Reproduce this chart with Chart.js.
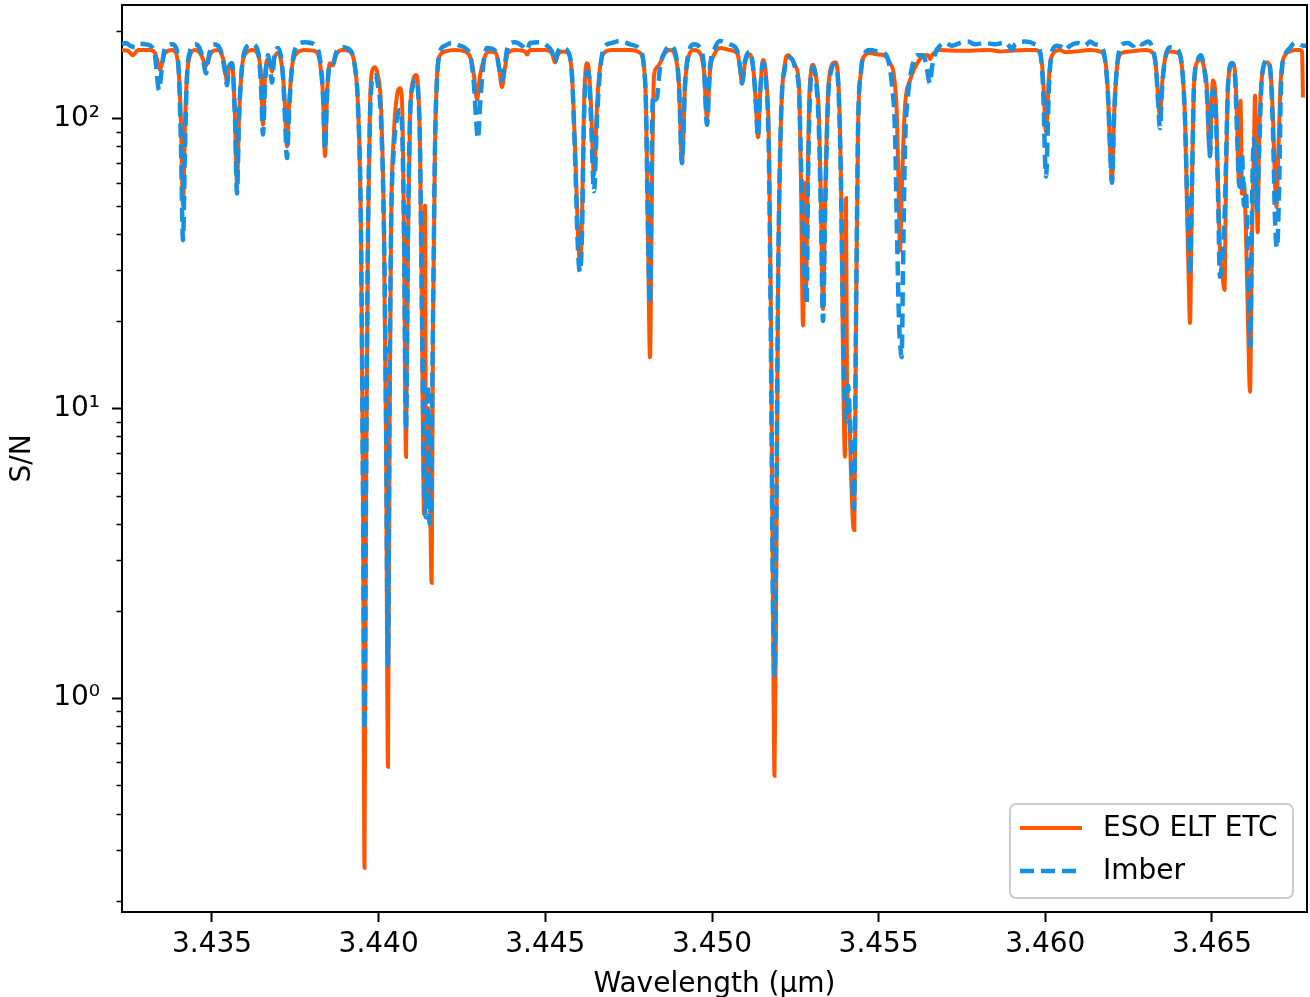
<!DOCTYPE html>
<html>
<head>
<meta charset="utf-8">
<script src="https://cdn.jsdelivr.net/npm/chart.js@4"></script>
<style>
  body { margin: 0; background: #fff; }
</style>
</head>
<body>
<canvas id="chart" width="1310" height="997"></canvas>
<script>
// [wavelength (um), S/N]
const etcSpectrum = [
  [3.43230, 172], [3.43248, 171], [3.43263, 165], [3.43278, 172], [3.43314, 172],
  [3.43329, 168], [3.43338, 155], [3.43344, 147], [3.43350, 155], [3.43359, 168],
  [3.43380, 172], [3.43392, 168], [3.43401, 140], [3.43407, 95], [3.43413, 50],
  [3.43419, 95], [3.43425, 140], [3.43434, 165], [3.43449, 172], [3.43464, 168],
  [3.43473, 160], [3.43482, 152], [3.43491, 162], [3.43500, 170], [3.43518, 172],
  [3.43530, 165], [3.43539, 150], [3.43545, 133], [3.43551, 150], [3.43560, 155],
  [3.43569, 100], [3.43575, 60], [3.43581, 100], [3.43590, 150], [3.43602, 168],
  [3.43620, 172], [3.43638, 166], [3.43647, 140], [3.43653, 95], [3.43659, 140],
  [3.43668, 160], [3.43674, 155], [3.43680, 145], [3.43686, 160], [3.43698, 168],
  [3.43713, 140], [3.43719, 110], [3.43725, 80], [3.43731, 110], [3.43740, 150],
  [3.43755, 168], [3.43779, 172], [3.43812, 170], [3.43824, 155], [3.43833, 120],
  [3.43839, 74], [3.43845, 120], [3.43854, 155], [3.43863, 152], [3.43872, 165],
  [3.43890, 172], [3.43914, 170], [3.43929, 150], [3.43938, 110], [3.43947, 40],
  [3.43953, 5], [3.439575, 0.26], [3.43962, 5], [3.43968, 40], [3.43974, 110],
  [3.43980, 145], [3.43989, 150], [3.43998, 140], [3.44007, 110], [3.44016, 40],
  [3.44022, 8], [3.44028, 0.58], [3.440325, 8], [3.44037, 40], [3.44046, 90],
  [3.44055, 120], [3.44064, 127], [3.44070, 115], [3.44076, 40], [3.44082, 6.8],
  [3.44088, 40], [3.44094, 100], [3.44103, 135], [3.44112, 141], [3.44118, 130],
  [3.44124, 80], [3.44130, 20], [3.44136, 4.3], [3.44139, 50], [3.44142, 5],
  [3.44148, 10], [3.44154, 5], [3.44159, 2.5], [3.44163, 20], [3.44169, 80],
  [3.44175, 140], [3.44184, 165], [3.44199, 170], [3.44229, 172], [3.44259, 170],
  [3.44277, 160], [3.44286, 140], [3.44295, 116], [3.44304, 140], [3.44316, 160],
  [3.44328, 170], [3.44352, 168], [3.44361, 150], [3.44370, 128], [3.44379, 150],
  [3.44388, 168], [3.44409, 172], [3.44439, 170], [3.44445, 166], [3.44454, 172],
  [3.44499, 172], [3.44520, 168], [3.44529, 156], [3.44538, 166], [3.44550, 170],
  [3.44568, 168], [3.44580, 140], [3.44589, 80], [3.44598, 40], [3.44604, 32],
  [3.44610, 45], [3.44616, 110], [3.44625, 155], [3.44631, 145], [3.44637, 110],
  [3.44646, 64], [3.44655, 110], [3.44664, 150], [3.44676, 168], [3.44700, 172],
  [3.44754, 172], [3.44784, 168], [3.44796, 150], [3.44802, 110], [3.44808, 40],
  [3.44814, 15], [3.44820, 60], [3.44826, 140], [3.44835, 150], [3.44844, 155],
  [3.44859, 168], [3.44874, 172], [3.44889, 165], [3.44901, 130], [3.44910, 70],
  [3.44919, 130], [3.44931, 165], [3.44946, 172], [3.44964, 168], [3.44976, 145],
  [3.44985, 100], [3.44994, 145], [3.45009, 168], [3.45024, 175], [3.45054, 172],
  [3.45075, 168], [3.45084, 150], [3.45090, 132], [3.45099, 155], [3.45114, 166],
  [3.45126, 140], [3.45132, 110], [3.45138, 86], [3.45144, 120], [3.45153, 159],
  [3.45162, 140], [3.45171, 80], [3.45177, 20], [3.45183, 2], [3.451875, 0.54],
  [3.45192, 2], [3.45198, 25], [3.45207, 100], [3.45219, 155], [3.45228, 165],
  [3.45240, 160], [3.45252, 150], [3.45261, 130], [3.45267, 60], [3.45273, 19.3],
  [3.45279, 60], [3.45282, 25], [3.45285, 40], [3.45291, 110], [3.45297, 145],
  [3.45303, 153], [3.45312, 140], [3.45321, 100], [3.45327, 50], [3.45333, 22],
  [3.45339, 50], [3.45348, 120], [3.45357, 150], [3.45369, 156], [3.45378, 140],
  [3.45387, 60], [3.45393, 15], [3.45399, 6.8], [3.45402, 53], [3.45405, 12],
  [3.45411, 10], [3.45417, 6], [3.45423, 4], [3.45427, 3.8], [3.45432, 20],
  [3.45438, 90], [3.45447, 145], [3.45459, 165], [3.45474, 168], [3.45498, 166],
  [3.45516, 165], [3.45534, 155], [3.45546, 140], [3.45555, 100], [3.45561, 50],
  [3.45564, 35], [3.45570, 60], [3.45579, 110], [3.45594, 135], [3.45609, 150],
  [3.45624, 160], [3.45636, 165], [3.45648, 165], [3.45654, 160], [3.45660, 165],
  [3.45672, 170], [3.45684, 172], [3.45744, 171], [3.45834, 172], [3.45864, 170],
  [3.45894, 171], [3.45939, 172], [3.45969, 172], [3.45984, 168], [3.45993, 140],
  [3.46002, 90], [3.46011, 140], [3.46020, 165], [3.46044, 172], [3.46059, 169],
  [3.46089, 170], [3.46134, 172], [3.46164, 170], [3.46179, 160], [3.46188, 120],
  [3.46194, 80], [3.46200, 61], [3.46206, 100], [3.46215, 150], [3.46230, 168],
  [3.46254, 170], [3.46299, 172], [3.46323, 168], [3.46332, 150], [3.46338, 120],
  [3.46344, 101], [3.46350, 130], [3.46359, 160], [3.46374, 170], [3.46398, 168],
  [3.46410, 150], [3.46419, 100], [3.46425, 50], [3.46431, 25], [3.46434, 19.7],
  [3.46440, 60], [3.46446, 130], [3.46458, 158], [3.46467, 160], [3.46476, 150],
  [3.46485, 125], [3.46491, 80], [3.46494, 75], [3.464985, 110], [3.46503, 135],
  [3.46512, 110], [3.46518, 60], [3.46524, 35], [3.46530, 30], [3.465375, 25.6],
  [3.46542, 60], [3.46548, 130], [3.46560, 155], [3.46569, 145], [3.46575, 100],
  [3.46581, 60], [3.465855, 115], [3.46590, 55], [3.46596, 60], [3.46602, 40],
  [3.46608, 20], [3.46614, 11.4], [3.46620, 40], [3.46626, 80], [3.46629, 120],
  [3.46632, 90], [3.46637, 40.5], [3.46641, 80], [3.46650, 140], [3.46665, 156],
  [3.46674, 150], [3.46683, 100], [3.46689, 60], [3.466935, 49.5], [3.46698, 70],
  [3.46707, 140], [3.46719, 165], [3.46734, 170], [3.46749, 172], [3.46764, 172],
  [3.46770, 170], [3.46773, 118]
];

const imberSpectrum = [
  [3.43230, 180], [3.43242, 182], [3.43254, 178], [3.43269, 176], [3.43284, 181],
  [3.43302, 180], [3.43320, 176], [3.43329, 165], [3.43335, 140], [3.43341, 125],
  [3.43347, 140], [3.43356, 170], [3.43368, 178], [3.43380, 180], [3.43392, 175],
  [3.43401, 140], [3.43407, 80], [3.43413, 38], [3.43419, 80], [3.43425, 140],
  [3.43434, 170], [3.43449, 180], [3.43461, 176], [3.43473, 160], [3.43482, 143],
  [3.43491, 165], [3.43503, 180], [3.43518, 178], [3.43530, 165], [3.43539, 145],
  [3.43545, 130], [3.43551, 150], [3.43560, 155], [3.43569, 100], [3.43575, 55],
  [3.43581, 100], [3.43590, 150], [3.43602, 175], [3.43620, 180], [3.43638, 170],
  [3.43647, 130], [3.43653, 88], [3.43659, 130], [3.43668, 165], [3.43674, 150],
  [3.43680, 133], [3.43686, 160], [3.43698, 175], [3.43713, 140], [3.43719, 100],
  [3.43725, 73], [3.43731, 105], [3.43740, 150], [3.43755, 178], [3.43779, 183],
  [3.43812, 178], [3.43824, 160], [3.43833, 120], [3.43839, 78], [3.43845, 120],
  [3.43854, 155], [3.43863, 155], [3.43872, 168], [3.43890, 176], [3.43914, 172],
  [3.43929, 150], [3.43938, 110], [3.43947, 40], [3.43953, 5], [3.439575, 0.78],
  [3.43962, 5], [3.43968, 40], [3.43974, 100], [3.43980, 135], [3.43989, 141],
  [3.43998, 130], [3.44007, 100], [3.44016, 40], [3.44022, 10], [3.44028, 1.3],
  [3.440325, 10], [3.44037, 40], [3.44046, 80], [3.44055, 100], [3.44064, 107],
  [3.44070, 95], [3.44076, 40], [3.44082, 8.4], [3.44088, 40], [3.44094, 100],
  [3.44103, 130], [3.44112, 136], [3.44118, 125], [3.44124, 80], [3.44130, 20],
  [3.44136, 6], [3.44142, 4.2], [3.44148, 12], [3.441525, 4], [3.44157, 5],
  [3.44163, 20], [3.44169, 80], [3.44175, 135], [3.44184, 170], [3.44199, 178],
  [3.44220, 182], [3.44244, 178], [3.44259, 175], [3.44277, 160], [3.44286, 130],
  [3.44292, 100], [3.44298, 85], [3.44304, 110], [3.44313, 150], [3.44325, 175],
  [3.44352, 170], [3.44361, 150], [3.44370, 135], [3.44379, 155], [3.44388, 178],
  [3.44409, 183], [3.44430, 178], [3.44445, 172], [3.44454, 182], [3.44484, 183],
  [3.44505, 178], [3.44520, 170], [3.44529, 156], [3.44538, 170], [3.44550, 175],
  [3.44568, 170], [3.44580, 140], [3.44589, 75], [3.44598, 35], [3.44604, 29.5],
  [3.44610, 40], [3.44616, 100], [3.44625, 145], [3.44631, 140], [3.44637, 100],
  [3.44646, 56], [3.44655, 100], [3.44664, 145], [3.44676, 175], [3.44700, 182],
  [3.44724, 185], [3.44754, 180], [3.44784, 172], [3.44796, 150], [3.44802, 110],
  [3.44808, 40], [3.44814, 23], [3.44820, 90], [3.44823, 120], [3.44829, 116],
  [3.44835, 118], [3.44844, 150], [3.44859, 170], [3.44874, 178], [3.44889, 170],
  [3.44901, 130], [3.44910, 70], [3.44919, 130], [3.44931, 170], [3.44946, 180],
  [3.44964, 175], [3.44976, 150], [3.44985, 95], [3.44994, 150], [3.45009, 175],
  [3.45024, 185], [3.45054, 180], [3.45075, 172], [3.45084, 150], [3.45090, 132],
  [3.45099, 158], [3.45114, 170], [3.45126, 140], [3.45132, 110], [3.45138, 86],
  [3.45144, 120], [3.45153, 155], [3.45162, 135], [3.45171, 70], [3.45177, 15],
  [3.45183, 2], [3.451875, 1.2], [3.45192, 3], [3.45198, 25], [3.45207, 100],
  [3.45219, 150], [3.45228, 162], [3.45240, 160], [3.45252, 145], [3.45261, 125],
  [3.45267, 70], [3.45273, 40], [3.45279, 26], [3.45284, 23], [3.45288, 60],
  [3.45294, 120], [3.45303, 150], [3.45312, 135], [3.45321, 90], [3.45327, 45],
  [3.45333, 20], [3.45339, 45], [3.45348, 115], [3.45357, 145], [3.45369, 153],
  [3.45378, 135], [3.45387, 60], [3.45393, 20], [3.45399, 10], [3.45404, 9],
  [3.45408, 12], [3.45414, 9], [3.45420, 6], [3.45426, 4.5], [3.45432, 20],
  [3.45438, 90], [3.45447, 145], [3.45459, 168], [3.45474, 172], [3.45498, 170],
  [3.45516, 168], [3.45528, 160], [3.45540, 130], [3.45549, 90], [3.45555, 40],
  [3.45561, 20], [3.45564, 17], [3.45569, 15], [3.45573, 30], [3.45579, 80],
  [3.45588, 120], [3.45600, 150], [3.45615, 165], [3.45630, 165], [3.45642, 155],
  [3.45648, 140], [3.45654, 132], [3.45660, 150], [3.45672, 170], [3.45684, 178],
  [3.45699, 182], [3.45720, 178], [3.45744, 182], [3.45768, 184], [3.45789, 180],
  [3.45819, 182], [3.45849, 180], [3.45879, 183], [3.45894, 176], [3.45900, 172],
  [3.45909, 180], [3.45939, 184], [3.45969, 180], [3.45984, 170], [3.45993, 130],
  [3.46002, 63], [3.46011, 130], [3.46020, 170], [3.46035, 178], [3.46050, 176],
  [3.46059, 172], [3.46074, 178], [3.46098, 182], [3.46119, 178], [3.46134, 184],
  [3.46149, 180], [3.46164, 178], [3.46179, 160], [3.46188, 120], [3.46194, 80],
  [3.46200, 60], [3.46206, 100], [3.46215, 150], [3.46230, 180], [3.46248, 182],
  [3.46263, 178], [3.46275, 183], [3.46290, 180], [3.46308, 184], [3.46323, 172],
  [3.46332, 150], [3.46338, 115], [3.46344, 92.5], [3.46350, 125], [3.46359, 160],
  [3.46374, 176], [3.46398, 172], [3.46410, 150], [3.46419, 100], [3.46425, 55],
  [3.46431, 35], [3.46434, 28.8], [3.46440, 60], [3.46446, 130], [3.46458, 160],
  [3.46467, 165], [3.46476, 150], [3.46485, 120], [3.46491, 85], [3.46494, 74],
  [3.464985, 105], [3.46503, 125], [3.46512, 100], [3.46518, 55], [3.46524, 28.4],
  [3.46530, 32], [3.465375, 45], [3.46542, 70], [3.46548, 130], [3.46560, 155],
  [3.46569, 140], [3.46575, 90], [3.46581, 60], [3.46584, 58], [3.46590, 75],
  [3.46596, 50], [3.46602, 55], [3.46608, 30], [3.466155, 16.4], [3.46620, 50],
  [3.46626, 85], [3.46632, 60], [3.46635, 48], [3.46641, 75], [3.46650, 140],
  [3.46665, 158], [3.46674, 150], [3.46683, 90], [3.46689, 45], [3.46695, 35.7],
  [3.46701, 55], [3.46707, 130], [3.46719, 165], [3.46734, 175], [3.46749, 182],
  [3.46764, 180], [3.46773, 178], [3.46785, 178]
];

const seriesNames = ['ESO ELT ETC', 'Imber'];
const seriesColors = ['#ff5500', '#1690e4'];

const xRange = [3.43230, 3.46785];
const xTicks = [3.435, 3.440, 3.445, 3.450, 3.455, 3.460, 3.465];
const yRange = [0.183, 246];
const yTicks = [1, 10, 100];
const yTickLabels = ['10\u2070', '10\u00b9', '10\u00b2'];
const yMinorTicks = [0.2, 0.3, 0.4, 0.5, 0.6, 0.7, 0.8, 0.9,
                     2, 3, 4, 5, 6, 7, 8, 9,
                     20, 30, 40, 50, 60, 70, 80, 90, 200];

const FONT = 'DejaVu Sans';

// frame on top/right, minor log ticks and a matplotlib-like legend box
const framePlugin = {
  id: 'frame',
  afterDraw(chart) {
    const { ctx, chartArea: a, scales } = chart;
    ctx.save();
    ctx.strokeStyle = '#000';
    ctx.lineWidth = 2;
    ctx.beginPath();
    ctx.moveTo(a.left, a.top);
    ctx.lineTo(a.right, a.top);
    ctx.lineTo(a.right, a.bottom);
    ctx.stroke();

    ctx.lineWidth = 1.6;
    ctx.beginPath();
    yMinorTicks.forEach(v => {
      const y = Math.round(scales.y.getPixelForValue(v)) + 0.5;
      ctx.moveTo(a.left, y);
      ctx.lineTo(a.left - 5.5, y);
    });
    ctx.stroke();

    // legend
    const bx = 1010, by = 804, bw = 283, bh = 94;
    ctx.fillStyle = 'rgba(255,255,255,0.85)';
    ctx.strokeStyle = '#cccccc';
    ctx.lineWidth = 2;
    ctx.beginPath();
    ctx.roundRect(bx, by, bw, bh, 6);
    ctx.fill();
    ctx.stroke();

    ctx.font = '28px "' + FONT + '"';
    ctx.textBaseline = 'middle';
    ctx.fillStyle = '#000';
    chart.data.datasets.forEach((ds, i) => {
      const y = by + 24 + i * 43;
      ctx.strokeStyle = ds.borderColor;
      ctx.lineWidth = ds.borderWidth;
      ctx.setLineDash(ds.borderDash || []);
      ctx.beginPath();
      ctx.moveTo(bx + 10, y);
      ctx.lineTo(bx + 72, y);
      ctx.stroke();
      ctx.setLineDash([]);
      ctx.fillText(ds.label, bx + 93, y + 1);
    });
    ctx.restore();
  }
};

const data = {
  datasets: [{
    label: seriesNames[0],
    data: etcSpectrum.map(([x, y]) => ({ x, y })),
    borderColor: seriesColors[0],
    borderWidth: 4,
    order: 1
  }, {
    label: seriesNames[1],
    data: imberSpectrum.map(([x, y]) => ({ x, y })),
    borderColor: seriesColors[1],
    borderWidth: 4.5,
    borderDash: [14, 7],
    order: 0
  }]
};

const noEdgePadding = s => {
  s.paddingTop = 0; s.paddingBottom = 0;
  s.paddingLeft = 0; s.paddingRight = 0;
};

const config = {
  type: 'line',
  data: data,
  options: {
    responsive: false,
    animation: false,
    devicePixelRatio: 1,
    layout: { padding: { top: 5, right: 3, left: 0, bottom: 0 } },
    elements: {
      point: { radius: 0 },
      line: { tension: 0.4, cubicInterpolationMode: 'monotone', fill: false }
    },
    plugins: { legend: { display: false }, tooltip: { enabled: false } },
    scales: {
      x: {
        type: 'linear',
        min: xRange[0],
        max: xRange[1],
        afterBuildTicks: s => { s.ticks = xTicks.map(v => ({ value: v })); },
        afterFit: s => { s.height = 85; noEdgePadding(s); },
        ticks: {
          autoSkip: false,
          maxRotation: 0,
          padding: 6,
          color: '#000',
          font: { family: FONT, size: 28 },
          callback: v => v.toFixed(3)
        },
        grid: { drawOnChartArea: false, tickLength: 10, tickWidth: 2, tickColor: '#000' },
        border: { color: '#000', width: 2 },
        title: {
          display: true,
          text: 'Wavelength (\u03bcm)',
          color: '#000',
          font: { family: FONT, size: 28, lineHeight: 1 },
          padding: { top: 0, bottom: -2 }
        }
      },
      y: {
        type: 'logarithmic',
        min: yRange[0],
        max: yRange[1],
        afterBuildTicks: s => { s.ticks = yTicks.map(v => ({ value: v })); },
        afterFit: s => { s.width = 122; noEdgePadding(s); },
        ticks: {
          autoSkip: false,
          padding: 12,
          color: '#000',
          font: { family: FONT, size: 28 },
          callback: (v, i) => yTickLabels[i]
        },
        grid: { drawOnChartArea: false, tickLength: 10, tickWidth: 2, tickColor: '#000' },
        border: { color: '#000', width: 2 },
        title: {
          display: true,
          text: 'S/N',
          color: '#000',
          font: { family: FONT, size: 28, lineHeight: 1 },
          padding: { top: 9, bottom: 0 }
        }
      }
    }
  },
  plugins: [framePlugin]
};

const ctx = document.getElementById('chart').getContext('2d');
const myChart = new Chart(ctx, config);
</script>
</body>
</html>
